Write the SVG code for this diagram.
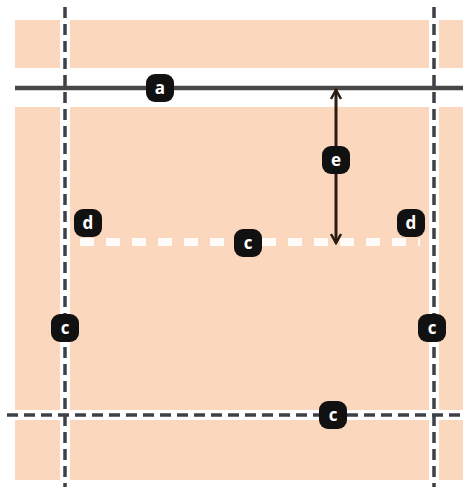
<svg xmlns="http://www.w3.org/2000/svg" width="463" height="487" viewBox="0 0 463 487">
<defs>
<style>
.band{fill:#fbd7bd}
.halo{stroke:#ffffff;stroke-width:10;fill:none}
.dash{stroke:#3d4047;stroke-width:3.5;stroke-dasharray:11 6;fill:none}
.badge rect{fill:#111111}
.badge text{fill:#ffffff;font-family:"Open Sans","DejaVu Sans",sans-serif;font-size:17px;font-weight:bold;text-anchor:middle;dominant-baseline:central}
</style>
<marker id="chev" viewBox="0 0 12 12" refX="10" refY="6" markerWidth="12" markerHeight="12" markerUnits="userSpaceOnUse" orient="auto-start-reverse">
<path d="M1,1 L10,6 L1,11" fill="none" stroke="#2a1c12" stroke-width="2.5"/>
</marker>
</defs>
<rect width="463" height="487" fill="#ffffff"/>
<g id="background">
<rect class="band" x="15" y="20" width="448" height="48"/>
<rect class="band" x="15" y="107" width="448" height="373"/>
</g>
<g id="connectors">
<line class="halo" x1="65" y1="0" x2="65" y2="487"/>
<line class="halo" x1="434" y1="0" x2="434" y2="487"/>
<line class="halo" x1="0" y1="415" x2="463" y2="415" stroke-width="12"/>
<line x1="80" y1="242" x2="420" y2="242" stroke="#ffffff" stroke-width="8" stroke-dasharray="14 12" opacity="0.9"/>
<line class="dash" x1="65" y1="7" x2="65" y2="487"/>
<line class="dash" x1="434" y1="7" x2="434" y2="487"/>
<line class="dash" x1="7" y1="415" x2="463" y2="415" stroke-dasharray="13 6"/>
<line x1="15" y1="88" x2="463" y2="88" stroke="#474747" stroke-width="4.5"/>
<line x1="336" y1="90" x2="336" y2="243" stroke="#2a1c12" stroke-width="3" marker-start="url(#chev)" marker-end="url(#chev)"/>
</g>
<g id="node-a" class="badge"><rect x="146" y="74" width="28" height="28" rx="9"/><text x="160" y="87">a</text></g>
<g id="node-e" class="badge"><rect x="322" y="146" width="28" height="28" rx="9"/><text x="336" y="159">e</text></g>
<g id="node-d-left" class="badge"><rect x="74" y="209" width="28" height="28" rx="9"/><text x="88" y="222">d</text></g>
<g id="node-d-right" class="badge"><rect x="397" y="209" width="28" height="28" rx="9"/><text x="411" y="222">d</text></g>
<g id="node-c-mid" class="badge"><rect x="234" y="229" width="28" height="28" rx="9"/><text x="248" y="242">c</text></g>
<g id="node-c-left" class="badge"><rect x="51" y="314" width="28" height="28" rx="9"/><text x="65" y="327">c</text></g>
<g id="node-c-right" class="badge"><rect x="418" y="314" width="28" height="28" rx="9"/><text x="432" y="327">c</text></g>
<g id="node-c-bottom" class="badge"><rect x="319" y="401" width="28" height="28" rx="9"/><text x="333" y="414">c</text></g>
</svg>
